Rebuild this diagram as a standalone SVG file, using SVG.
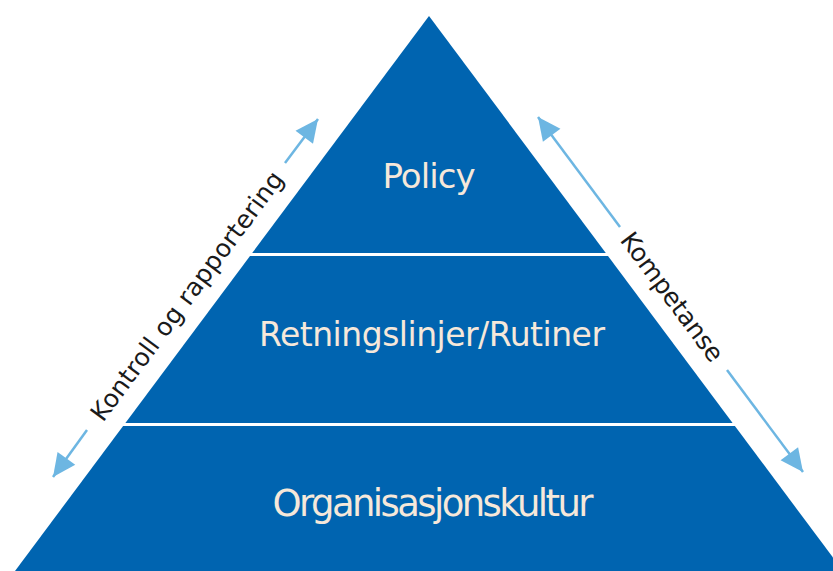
<svg xmlns="http://www.w3.org/2000/svg" width="833" height="571" viewBox="0 0 833 571">
  <style>
    .band { fill: #0064B0; }
    .lvl { font-family: "DejaVu Sans", "Liberation Sans", sans-serif; fill: #F6E8DA; text-anchor: middle; }
    .side { font-family: "DejaVu Sans", "Liberation Sans", sans-serif; fill: #1a1a1a; font-size: 25px; text-anchor: middle; dominant-baseline: central; }
    .arr { stroke: #6DB6E2; stroke-width: 2.5; fill: none; marker-end: url(#head); }
  </style>
  <defs>
    <marker id="head" markerUnits="userSpaceOnUse" markerWidth="26" markerHeight="26" viewBox="-23 -12 25 24" refX="0" refY="0" orient="auto">
      <path d="M0,0 L-22,-10.5 L-22,10.5 Z" fill="#6DB6E2"/>
    </marker>
  </defs>
  <rect width="833" height="571" fill="#FFFFFF"/>
  <g id="policy">
    <polygon class="band" points="429,16 605.8,253 252.2,253"/>
    <text class="lvl" x="429" y="188" font-size="34" textLength="93">Policy</text>
  </g>
  <g id="retningslinjer">
    <polygon class="band" points="250,256 608,256 732.6,423 125.4,423"/>
    <text class="lvl" x="432" y="346" font-size="33" textLength="346">Retningslinjer/Rutiner</text>
  </g>
  <g id="organisasjonskultur">
    <polygon class="band" points="123.1,426 734.9,426 843,571 15,571"/>
    <text class="lvl" x="433" y="516" font-size="37" textLength="321">Organisasjonskultur</text>
  </g>
  <g id="connectors">
    <line class="arr" x1="285" y1="163" x2="318" y2="119"/>
    <line class="arr" x1="87" y1="430" x2="53" y2="477"/>
    <line class="arr" x1="620" y1="227" x2="538" y2="117"/>
    <line class="arr" x1="727" y1="370" x2="803" y2="472"/>
  </g>
  <g id="kontroll">
    <text class="side" transform="translate(187,296) rotate(-53.3)" textLength="304">Kontroll og rapportering</text>
  </g>
  <g id="kompetanse">
    <text class="side" transform="translate(672,297) rotate(53.3)" textLength="154">Kompetanse</text>
  </g>
</svg>
